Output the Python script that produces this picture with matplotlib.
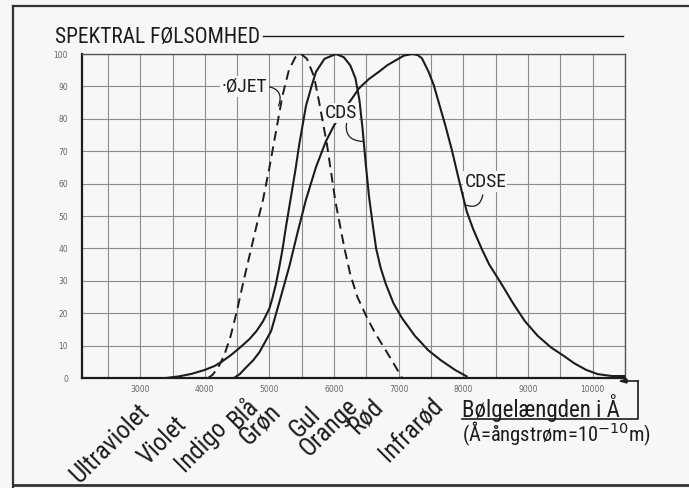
import matplotlib
matplotlib.use("Agg")
import matplotlib.pyplot as plt
from matplotlib import font_manager
from matplotlib.lines import Line2D
from matplotlib.transforms import blended_transform_factory
import numpy as np

# spectral response curves, wavelength in Ångström, response in % of peak
eye_wl = [4050, 4120, 4200, 4300, 4400, 4500, 4600, 4700, 4800, 4900, 5000, 5100,
          5200, 5300, 5400, 5490, 5580, 5690, 5770, 5890, 6020, 6160, 6250, 6360,
          6500, 6630, 6800, 6950, 7050]
eye_pct = [0, 1, 3, 7, 13, 21, 30, 38.5, 47, 55, 65, 76,
           87, 95, 99, 100, 98.5, 93, 85, 72, 54.5, 40, 32, 25,
           19, 14, 8.5, 3.5, 0]

cds_wl = [3400, 3600, 3800, 4000, 4150, 4260, 4400, 4550, 4690, 4800, 4900, 5000,
          5050, 5100, 5150, 5200, 5250, 5300, 5350, 5400, 5460, 5565, 5650, 5720,
          5850, 6030, 6150, 6250, 6330, 6390, 6440, 6490, 6540, 6600, 6650, 6720,
          6800, 6920, 7050, 7250, 7460, 7650, 7870, 8050]
cds_pct = [0, 0.5, 1.3, 2.5, 3.7, 5, 7, 9.5, 12, 14.5, 17.5, 21.5,
           25, 29, 34, 39.5, 46, 52, 58, 64, 72, 84, 90, 94.5,
           98.5, 100, 99, 96.5, 92.5, 86, 77, 66, 56, 47, 40, 34,
           29, 23, 18.5, 13, 8.5, 5.5, 2.5, 0.5]

cdse_wl = [4450, 4540, 4650, 4750, 4846, 5026, 5154, 5308, 5436, 5564, 5718, 5872,
           6000, 6140, 6282, 6385, 6540, 6692, 6820, 6949, 7080, 7205, 7290, 7358,
           7462, 7540, 7615, 7720, 7820, 7923, 8050, 8150, 8280, 8400, 8590, 8770,
           8949, 9150, 9358, 9540, 9718, 9900, 10077, 10300, 10500]
cdse_pct = [0, 1.2, 3.5, 5.5, 8, 14.5, 23.5, 34.5, 45, 55, 65, 73,
            78, 82.5, 86.4, 89.4, 92.3, 94.5, 96.5, 98, 99.5, 100, 99.7, 98.7,
            94.5, 90.5, 85.3, 78, 70.5, 61.8, 51.5, 46, 40, 35, 29, 23,
            17.6, 13, 9.4, 7, 4.5, 2.5, 1.2, 0.6, 0.6]

x_ticks = [3000, 4000, 5000, 6000, 7000, 8000, 9000, 10000]
y_ticks = [0, 10, 20, 30, 40, 50, 60, 70, 80, 90, 100]

bands = ["Ultraviolet", "Violet", "Indigo", "Blå", "Grøn", "Gul", "Orange", "Rød", "Infrarød"]
band_wl = [2950, 3530, 4140, 4640, 4980, 5600, 6170, 6570, 7500]
band_drop = [0.066, 0.106, 0.115, 0.05, 0.066, 0.075, 0.05, 0.05, 0.05]

BG = "#f7f7f5"
INK = "#1c1c1c"
GRID = "#8c8c8c"

# prefer a narrow lettering face if one is installed
narrow_names = ["Liberation Sans Narrow", "DejaVu Sans Condensed", "Noto Sans Condensed",
                "Roboto Condensed", "Open Sans Condensed", "Noto Sans ExtraCondensed"]
installed = {f.name for f in font_manager.fontManager.ttflist}
FONT = [n for n in narrow_names if n in installed][:1] + ["DejaVu Sans"]

W, H = 689, 488
def fx(px):
    return px / W
def fy(py):
    return 1 - py / H

fig = plt.figure(figsize=(W / 100, H / 100), dpi=100, facecolor=BG)
ax = fig.add_axes([fx(82), fy(378), 543 / W, 324 / H], facecolor=BG)
renderer = fig.canvas.get_renderer()

def fit(t, width):
    while t.get_window_extent(renderer).width > width and t.get_fontsize() > 6:
        t.set_fontsize(t.get_fontsize() - 0.25)
    return t.get_fontsize()

ax.set_xlim(2100, 10500)
ax.set_ylim(0, 100)
ax.set_xticks(x_ticks)
ax.set_xticks(np.arange(2500, 10501, 1000), minor=True)
ax.set_yticks(y_ticks)
ax.grid(which="both", color=GRID, lw=0.8)
ax.tick_params(which="both", length=0, labelsize=5.5, labelcolor="#666666")
ax.tick_params(axis="y", pad=10)
ax.tick_params(axis="x", pad=5)
for s in ("left", "bottom"):
    ax.spines[s].set_color(INK)
    ax.spines[s].set_linewidth(1.6)
for s in ("top", "right"):
    ax.spines[s].set_color("#555555")
    ax.spines[s].set_linewidth(1.0)

ax.plot(eye_wl, eye_pct, color=INK, lw=1.4, ls=(0, (5, 3)), zorder=3)
ax.plot(cds_wl, cds_pct, color=INK, lw=1.5, zorder=3)
ax.plot(cdse_wl, cdse_pct, color=INK, lw=1.5, zorder=3)

# curve names sit on the grid with a blank patch behind them
lbl = dict(family=FONT, color=INK, zorder=5, ha="center", va="center",
           bbox=dict(facecolor=BG, edgecolor="none", pad=1.0))
t_cdse = ax.text(8338, 60.6, "CDSE", fontsize=18, **lbl)
size = fit(t_cdse, 42)
ax.text(4615, 90, "·ØJET", fontsize=size, **lbl)
ax.text(6108, 81.8, "CDS", fontsize=size, **lbl)

lead = dict(arrowstyle="-", color=INK, lw=0.9, shrinkA=0, shrinkB=0)
ax.annotate("", xy=(5140, 84), xytext=(4970, 90),
            arrowprops=dict(lead, connectionstyle="arc3,rad=-0.6"), zorder=4)
ax.annotate("", xy=(6450, 73), xytext=(6200, 79.5),
            arrowprops=dict(lead, connectionstyle="arc3,rad=0.6"), zorder=4)
ax.annotate("", xy=(8020, 53.5), xytext=(8300, 56.5),
            arrowprops=dict(lead, connectionstyle="arc3,rad=-0.6"), zorder=4)

# colour band names under the wavelength axis
tr = blended_transform_factory(ax.transData, ax.transAxes)
band_texts = []
for name, wl, dy in zip(bands, band_wl, band_drop):
    band_texts.append(ax.text(wl, -dy, name, transform=tr, rotation=45,
                              rotation_mode="anchor", ha="right", va="top",
                              fontsize=18, family=FONT, color=INK))
bsize = fit(band_texts[0], 96)
for t in band_texts:
    t.set_fontsize(bsize)

title = fig.text(fx(55), fy(38), "SPEKTRAL FØLSOMHED", fontsize=20, family=FONT,
                 color=INK, va="center", ha="left")
fit(title, 208)
xl1 = fig.text(fx(462), fy(408), "Bølgelængden i Å", fontsize=18, family=FONT,
               color=INK, va="center", ha="left")
fit(xl1, 160)
xl2 = fig.text(fx(462), fy(434), "(Å=ångstrøm=10$^{-10}$m)", fontsize=18, family=FONT,
               color=INK, va="center", ha="left")
fit(xl2, 192)

tb = title.get_window_extent(renderer)
fig.add_artist(Line2D([(tb.x1 + 3) / W, fx(623)], [fy(36), fy(36)], color=INK, lw=1.0))

# underline + bracket back to the 10000 mark
fig.add_artist(Line2D([fx(462), fx(638), fx(638)], [fy(419), fy(419), fy(381)],
                      color=INK, lw=1.2))
fig.add_artist(Line2D([fx(638), fx(624)], [fy(381), fy(381)], color=INK, lw=1.2))
fig.patches.append(plt.Polygon([[fx(620), fy(381)], [fx(627), fy(379)], [fx(627), fy(383)]],
                               closed=True, color=INK, transform=fig.transFigure))

# outer frame
fig.add_artist(Line2D([fx(13), fx(689)], [fy(6), fy(6)], color="#333333", lw=1.6))
fig.add_artist(Line2D([fx(13), fx(13)], [fy(6), fy(488)], color="#333333", lw=1.6))
fig.add_artist(Line2D([fx(13), fx(689)], [fy(485), fy(485)], color="#333333", lw=2.0))

fig.savefig("out.png", dpi=100, facecolor=BG)
